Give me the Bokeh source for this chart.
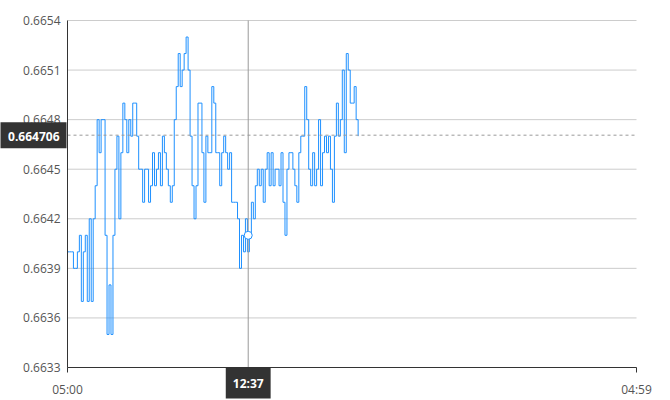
import numpy as np
import pandas as pd
from bokeh.plotting import figure
from bokeh.models import (Range1d, FixedTicker, DatetimeTickFormatter, PrintfTickFormatter,
                          Label, ColumnDataSource)
from bokeh.embed import file_html
from bokeh.resources import INLINE

# ---- data ----
start_time = "2024-01-01 05:00"
end_time = "2024-01-02 04:59"
step_minutes = 5
prices = [
    0.6640, 0.6640, 0.6640, 0.6639, 0.6639, 0.6640, 0.6641, 0.6637, 0.6640, 0.6641,
    0.6637, 0.6642, 0.6637, 0.6642, 0.6644, 0.6648, 0.6646, 0.6648, 0.6648, 0.6641,
    0.6635, 0.6638, 0.6635, 0.6641, 0.6645, 0.6647, 0.6642, 0.6646, 0.6649, 0.6648,
    0.6646, 0.6648, 0.6647, 0.6649, 0.6649, 0.6647, 0.6645, 0.6645, 0.6643, 0.6645,
    0.6645, 0.6643, 0.6644, 0.6646, 0.6644, 0.6645, 0.6646, 0.6644, 0.6647, 0.6646,
    0.6645, 0.6644, 0.6643, 0.6644, 0.6648, 0.6650, 0.6652, 0.6650, 0.6651, 0.6652,
    0.6653, 0.6651, 0.6647, 0.6644, 0.6642, 0.6644, 0.6649, 0.6649, 0.6646, 0.6643,
    0.6647, 0.6646, 0.6646, 0.6650, 0.6649, 0.6646, 0.6646, 0.6644, 0.6646, 0.6647,
    0.6646, 0.6645, 0.6646, 0.6643, 0.6643, 0.6643, 0.6642, 0.6639, 0.6641, 0.6640,
    0.6642, 0.6640, 0.6641, 0.6643, 0.6642, 0.6644, 0.6645, 0.6644, 0.6645, 0.6643,
    0.6645, 0.6646, 0.6644, 0.6646, 0.6644, 0.6645, 0.6645, 0.6644, 0.6646, 0.6643,
    0.6641, 0.6645, 0.6646, 0.6646, 0.6645, 0.6644, 0.6643, 0.6646, 0.6647, 0.6647,
    0.6650, 0.6648, 0.6645, 0.6644, 0.6646, 0.6644, 0.6645, 0.6648, 0.6644, 0.6646,
    0.6647, 0.6646, 0.6647, 0.6645, 0.6643, 0.6647, 0.6649, 0.6647, 0.6648, 0.6651,
    0.6646, 0.6652, 0.6651, 0.6649, 0.6649, 0.6650, 0.6648, 0.6647,
]
y_ticks = [0.6633, 0.6636, 0.6639, 0.6642, 0.6645, 0.6648, 0.6651, 0.6654]
x_tick_times = ["2024-01-01 05:00", "2024-01-02 04:59"]
cross_time = "2024-01-01 12:37"
cross_price = 0.6641
cross_label = "12:37"
last_price = 0.664706
last_label = "0.664706"

# ---- layout (pixels) ----
W, H = 670, 400
PL, PR, PT, PB = 67, 34, 20, 33          # plot-area margins inside the canvas

def ms(t):
    return pd.Timestamp(t).value / 1e6

t0, t1 = ms(x_tick_times[0]), ms(x_tick_times[1])
y0, y1 = y_ticks[0], y_ticks[-1]
kx = (t1 - t0) / (W - PL - PR)
ky = (y1 - y0) / (H - PT - PB)

times = pd.Timestamp(start_time) + pd.to_timedelta(np.arange(len(prices)) * step_minutes, unit="min")
src = ColumnDataSource(data=dict(t=times, price=prices))

LINE = "#1E90FF"
FONT = "Open Sans"

p = figure(x_axis_type="datetime", output_backend="svg", toolbar_location=None, title=None,
           frame_width=W, frame_height=H,
           min_border=0, min_border_left=0, min_border_right=0, min_border_top=0, min_border_bottom=0,
           x_range=Range1d(t0 - PL * kx, t1 + PR * kx),
           y_range=Range1d(y0 - PB * ky, y1 + PT * ky))
p.outline_line_color = None
p.background_fill_color = "white"
p.border_fill_color = "white"
p.xgrid.visible = False
p.ygrid.visible = False

# horizontal grid lines at the y ticks, spanning the plot area
p.segment(x0=[t0] * len(y_ticks), x1=[t1] * len(y_ticks), y0=y_ticks, y1=y_ticks,
          line_color="#cccccc", line_width=1)

p.step("t", "price", source=src, mode="after", line_color=LINE, line_width=1)

# axes (drawn at fixed positions inside the full-canvas frame)
p.yaxis.fixed_location = t0
p.yaxis.bounds = (y0, y1)
p.yaxis.ticker = FixedTicker(ticks=y_ticks)
p.yaxis.formatter = PrintfTickFormatter(format="%.4f")
p.yaxis.major_tick_line_color = None
p.yaxis.minor_tick_line_color = None
p.yaxis.major_tick_out = 0
p.yaxis.major_tick_in = 0
p.yaxis.major_label_standoff = 7
p.yaxis.axis_line_color = "#333333"

p.xaxis.fixed_location = y0
p.xaxis.bounds = (t0, t1)
p.xaxis.ticker = FixedTicker(ticks=[t0, t1])
fmt = "%H:%M"
p.xaxis.formatter = DatetimeTickFormatter(microseconds=fmt, milliseconds=fmt, seconds=fmt, minsec=fmt,
                                          minutes=fmt, hourmin=fmt, hours=fmt, days=fmt, months=fmt, years=fmt)
p.xaxis.major_tick_line_color = "#333333"
p.xaxis.major_tick_out = 5
p.xaxis.major_tick_in = 0
p.xaxis.minor_tick_line_color = None
p.xaxis.major_label_standoff = 8
p.xaxis.axis_line_color = "#333333"

for ax in (p.xaxis, p.yaxis):
    ax.major_label_text_font = FONT
    ax.major_label_text_font_size = "12px"
    ax.major_label_text_color = "#555555"

# crosshair
p.segment(x0=[ms(cross_time)], x1=[ms(cross_time)], y0=[y0], y1=[y1],
          line_color="#999999", line_width=1)
p.segment(x0=[t0], x1=[t1], y0=[last_price], y1=[last_price],
          line_color="#999999", line_width=1, line_dash="3 3")
p.scatter(x=[ms(cross_time)], y=[cross_price], size=8, fill_color="white",
          line_color=LINE, line_width=1)

# value badges
p.add_layout(Label(x=t0, y=last_price, x_offset=-1, level="overlay",
                   text=last_label, text_align="right", text_baseline="middle",
                   text_color="white", text_font=FONT, text_font_style="bold",
                   text_font_size="12px", background_fill_color="#333333",
                   padding=(10, 7, 10, 7)))
p.add_layout(Label(x=ms(cross_time), y=y0, level="overlay",
                   text=cross_label, text_align="center", text_baseline="top",
                   text_color="white", text_font=FONT, text_font_style="bold",
                   text_font_size="12px", background_fill_color="#333333", padding=7))

open("out.html", "w").write(file_html(p, INLINE))
